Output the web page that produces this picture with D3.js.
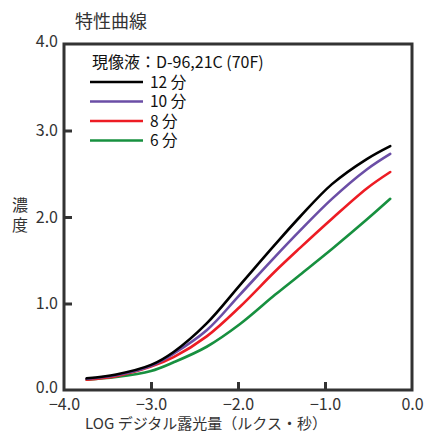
<!DOCTYPE html>
<html><head><meta charset="utf-8">
<script src="https://cdn.jsdelivr.net/npm/d3@7"></script>
<style>body{margin:0;background:#fff}svg text{font-family:"Noto Sans CJK JP","Noto Sans",sans-serif}</style>
</head><body><svg id="c" width="429" height="436"></svg>
<script>
const logE = [-3.74, -3.4, -3.0, -2.74, -2.36, -1.98, -1.575, -1.29, -0.92, -0.52, -0.25];
const d12 = [0.135, 0.18, 0.29, 0.44, 0.77, 1.21, 1.68, 2.00, 2.38, 2.67, 2.82];
const d10 = [0.13, 0.17, 0.28, 0.42, 0.69, 1.10, 1.54, 1.84, 2.21, 2.55, 2.73];
const d8  = [0.12, 0.16, 0.27, 0.38, 0.62, 0.96, 1.37, 1.64, 1.98, 2.33, 2.52];
const d6  = [0.12, 0.15, 0.22, 0.32, 0.50, 0.76, 1.10, 1.33, 1.63, 1.97, 2.21];
const seriesNames = ["12 分", "10 分", "8 分", "6 分"];
const seriesColors = ["#000000", "#6b4ea6", "#ed1c24", "#17903f"];
const xTicks = [-4, -3, -2, -1, 0];
const yTicks = [0, 1, 2, 3, 4];
const title = "特性曲線";
const legendTitle = "現像液：D-96,21C (70F)";
const xTitle = "LOG デジタル露光量（ルクス・秒）";
const yTitle = ["濃", "度"];

const svg = d3.select("#c");
const L = 64, R = 412, T = 44, B = 390;
const x = d3.scaleLinear().domain([-4, 0]).range([L, R]);
const y = d3.scaleLinear().domain([0, 4]).range([B, T]);
const ink = "#333";

const all = [d12, d10, d8, d6];
const line = d3.line().x(d => x(d[0])).y(d => y(d[1])).curve(d3.curveCatmullRom.alpha(0.5));
for (let i = all.length - 1; i >= 0; i--) {
  svg.append("path").attr("d", line(logE.map((v, j) => [v, all[i][j]])))
    .attr("fill", "none").attr("stroke", seriesColors[i]).attr("stroke-width", 2.6)
    .attr("stroke-linecap", "round");
}

svg.append("rect").attr("x", L).attr("y", T).attr("width", R - L).attr("height", B - T)
  .attr("fill", "none").attr("stroke", ink).attr("stroke-width", 3);

const xa = svg.append("g").attr("transform", `translate(0,${B})`)
  .call(d3.axisBottom(x).tickValues(xTicks).tickSizeInner(-8).tickSizeOuter(0).tickPadding(12).tickFormat(d3.format(".1f")));
const ya = svg.append("g").attr("transform", `translate(${L},0)`)
  .call(d3.axisLeft(y).tickValues(yTicks).tickSizeInner(-8).tickSizeOuter(0).tickPadding(6).tickFormat(d3.format(".1f")));
[xa, ya].forEach(g => {
  g.select(".domain").remove();
  g.selectAll(".tick line").attr("stroke", ink).attr("stroke-width", 3);
  g.selectAll(".tick text").attr("fill", ink).attr("font-size", 16);
});
xa.selectAll(".tick text").attr("dy", "0.5em");
ya.selectAll(".tick").filter(d => d === 0 || d === 4).select("line").remove();
xa.selectAll(".tick").filter(d => d === -4 || d === 0).select("line").remove();
ya.selectAll(".tick").filter(d => d === 0 || d === 4).select("text").attr("dy", "0.15em");

svg.append("text").attr("x", 75).attr("y", 28).attr("font-size", 18).attr("fill", ink).text(title);
svg.append("text").attr("x", 206).attr("y", 429).attr("text-anchor", "middle")
  .attr("font-size", 15).attr("fill", ink).text(xTitle);
yTitle.forEach((ch, i) => svg.append("text").attr("x", 20).attr("y", 211 + i * 20)
  .attr("text-anchor", "middle").attr("font-size", 16).attr("fill", ink).text(ch));

svg.append("text").attr("x", 92).attr("y", 68).attr("font-size", 16).attr("fill", "#111").text(legendTitle);
seriesNames.forEach((n, i) => {
  const yy = 82 + i * 19.5;
  svg.append("line").attr("x1", 90).attr("x2", 143).attr("y1", yy).attr("y2", yy)
    .attr("stroke", seriesColors[i]).attr("stroke-width", 2.6);
  svg.append("text").attr("x", 150).attr("y", yy + 5.5).attr("font-size", 15.5).attr("fill", "#111").text(n);
});
</script></body></html>
